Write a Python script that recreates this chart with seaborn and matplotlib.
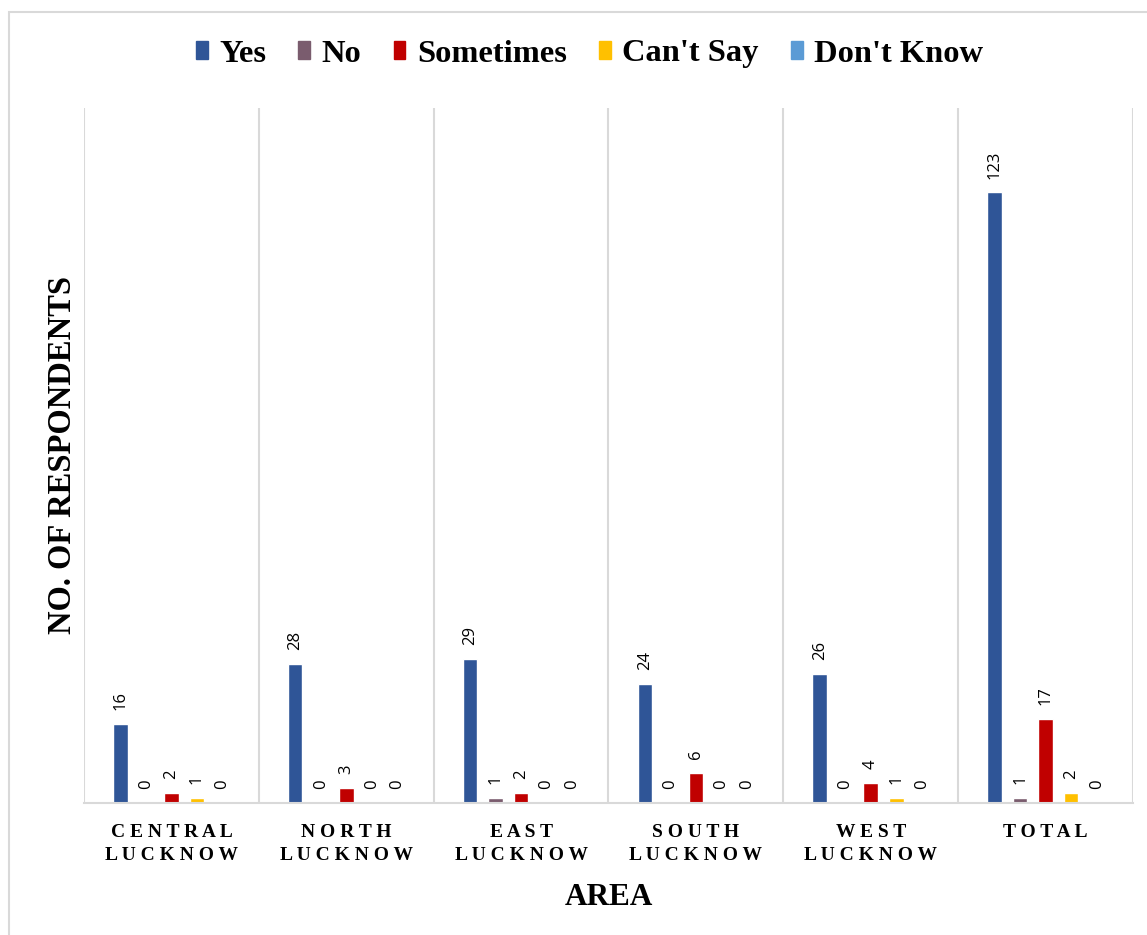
import matplotlib
matplotlib.use("Agg")
import matplotlib.pyplot as plt
import seaborn as sns
import pandas as pd
from matplotlib.patches import Rectangle

areas = ["CENTRAL\nLUCKNOW", "NORTH\nLUCKNOW", "EAST\nLUCKNOW", "SOUTH\nLUCKNOW", "WEST\nLUCKNOW", "TOTAL"]
responses = ["Yes", "No", "Sometimes", "Can't Say", "Don't Know"]
yes_vals = [16, 28, 29, 24, 26, 123]
no_vals = [0, 0, 1, 0, 0, 1]
sometimes_vals = [2, 3, 2, 6, 4, 17]
cantsay_vals = [1, 0, 0, 0, 1, 2]
dontknow_vals = [0, 0, 0, 0, 0, 0]
colors = ["#2F5597", "#7A5C6E", "#C00000", "#FFC000", "#5B9BD5"]

series = [yes_vals, no_vals, sometimes_vals, cantsay_vals, dontknow_vals]
rows = []
for resp, vals in zip(responses, series):
    for a, v in zip(areas, vals):
        rows.append({"Area": a, "Response": resp, "Count": v})
df = pd.DataFrame(rows)

sns.set_style("white")
plt.rcParams['font.family'] = ['Liberation Serif', 'DejaVu Serif']
plt.rcParams['text.color'] = 'black'
plt.rcParams['axes.labelcolor'] = 'black'
plt.rcParams['xtick.color'] = 'black'

fig = plt.figure(figsize=(11.47, 9.35), dpi=100)
ax = fig.add_axes([84/1147, 1-803/935, (1133-84)/1147, (803-108)/935])

sns.barplot(data=df, x="Area", y="Count", hue="Response", hue_order=responses,
            order=areas, palette=colors, width=0.73, gap=0.43, ax=ax,
            saturation=1, errorbar=None, legend=True)

ax.set_ylim(0, 140)
ax.set_xlim(-0.5, len(areas) - 0.5)

for cont in ax.containers:
    ax.bar_label(cont, fmt="%d", rotation=90, padding=10, fontsize=12,
                 family="Open Sans", color="#000000")

# vertical separators
for i in range(len(areas) + 1):
    ax.axvline(i - 0.5, color="#D9D9D9", lw=1.5, zorder=0)
for s in ["top", "right", "left"]:
    ax.spines[s].set_visible(False)
ax.spines["bottom"].set_color("#D9D9D9")
ax.spines["bottom"].set_linewidth(1.5)
ax.set_yticks([])

def spaced(label):
    return "\n".join(" ".join(list(line)) for line in label.split("\n"))

ax.set_xticks(range(len(areas)))
ax.set_xticklabels([spaced(a) for a in areas], fontsize=14, fontweight="bold",
                   linespacing=1.45, color="black")
ax.tick_params(axis="x", length=0, pad=15)

ax.set_xlabel("AREA", fontsize=22.5, fontweight="bold", labelpad=14, color="black")
ax.set_ylabel("NO. OF RESPONDENTS", fontsize=23.5, fontweight="bold", color="black")
ax.yaxis.label.set_va("center")
ax.yaxis.set_label_coords(-21/1049, 0.5)

ax.get_legend().remove()
handles = [Rectangle((0, 0), 1, 1, color=c) for c in colors]
fig.legend(handles, responses, loc="center", bbox_to_anchor=(0.514, 1-54/935),
           ncol=5, frameon=False,
           prop={"family": "Liberation Serif", "weight": "bold", "size": 23.4},
           labelcolor="black",
           handlelength=0.36, handleheight=0.5, handletextpad=0.35, columnspacing=1.0)

# outer border
fig.patches.append(Rectangle((9/1147, -0.1), 1.2, 1.1 - 12/935, transform=fig.transFigure,
                             fill=False, edgecolor="#D9D9D9", lw=1.5, zorder=0))

fig.savefig("out.png", dpi=100)
